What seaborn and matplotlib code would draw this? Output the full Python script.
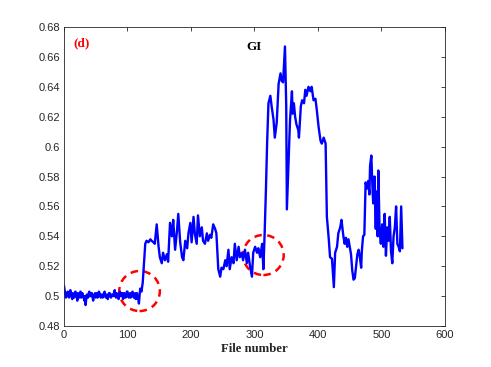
import matplotlib
matplotlib.use("Agg")
import matplotlib.pyplot as plt
import seaborn as sns
import pandas as pd
from matplotlib.patches import Ellipse
from matplotlib.ticker import FormatStrFormatter, MultipleLocator

# values (file number, GI)
file_number = [
    0, 1, 2, 3, 4, 5, 6, 7, 8, 9, 10, 11, 12, 13, 14, 15, 16, 17, 18, 19,
    20, 21, 22, 23, 24, 25, 26, 27, 28, 29, 30, 31, 32, 33, 34, 35, 36, 37, 38, 39,
    40, 41, 42, 43, 44, 45, 46, 47, 48, 49, 50, 51, 52, 53, 54, 55, 56, 57, 58, 59,
    60, 61, 62, 63, 64, 65, 66, 67, 68, 69, 70, 71, 72, 73, 74, 75, 76, 77, 78, 79,
    80, 81, 82, 83, 84, 85, 86, 87, 88, 89, 90, 91, 92, 93, 94, 95, 96, 97, 98, 99,
    100, 101, 102, 103, 104, 105, 106, 107, 108, 109, 110, 111, 112, 113, 114, 115, 116, 117, 118, 119,
    120, 122, 124, 126, 128, 130, 133, 136, 138, 141, 143, 146, 149, 151, 154, 156, 159, 162, 164, 167,
    170, 172, 175, 178, 180, 183, 186, 188, 191, 194, 196, 199, 201, 204, 206, 209, 211, 214, 217, 219,
    222, 225, 227, 230, 232, 235, 238, 240, 243, 246, 248, 251, 254, 256, 259, 261, 264, 267, 269, 272,
    275, 277, 280, 282, 285, 288, 290, 293, 296, 298, 301, 304, 306, 309, 312, 314, 316, 318, 320, 322,
    325, 327, 330, 332, 335, 338, 341, 343, 345, 348, 350, 351, 353, 356, 359, 360, 362, 364, 366, 369,
    370, 373, 375, 378, 380, 382, 385, 388, 390, 393, 396, 398, 401, 404, 406, 409, 412, 414, 417, 419,
    422, 425, 427, 430, 432, 435, 437, 440, 442, 444, 446, 448, 450, 452, 454, 456, 458, 460, 462, 464,
    466, 468, 469, 471, 473, 475, 477, 479, 481, 482, 484, 486, 487, 489, 491, 492, 494, 495, 497, 499,
    501, 503, 505, 507, 509, 511, 513, 515, 517, 519, 521, 523, 525, 527, 529, 531, 533,
]
gi = [
    0.507, 0.504, 0.502, 0.499, 0.500, 0.502, 0.503, 0.500, 0.499, 0.502, 0.504, 0.501, 0.500, 0.498, 0.502, 0.500, 0.499, 0.501, 0.503, 0.500,
    0.500, 0.497, 0.502, 0.500, 0.499, 0.501, 0.503, 0.499, 0.501, 0.502, 0.500, 0.499, 0.497, 0.500, 0.494, 0.498, 0.501, 0.500, 0.499, 0.502,
    0.503, 0.500, 0.500, 0.502, 0.502, 0.499, 0.497, 0.500, 0.501, 0.502, 0.499, 0.500, 0.502, 0.499, 0.500, 0.503, 0.502, 0.500, 0.499, 0.501,
    0.501, 0.499, 0.500, 0.502, 0.503, 0.500, 0.499, 0.501, 0.501, 0.498, 0.500, 0.502, 0.502, 0.500, 0.499, 0.501, 0.501, 0.500, 0.500, 0.503,
    0.504, 0.500, 0.499, 0.502, 0.501, 0.499, 0.498, 0.501, 0.503, 0.500, 0.500, 0.502, 0.502, 0.498, 0.499, 0.502, 0.501, 0.499, 0.500, 0.503,
    0.503, 0.500, 0.499, 0.501, 0.502, 0.499, 0.500, 0.502, 0.503, 0.500, 0.499, 0.501, 0.502, 0.498, 0.500, 0.502, 0.498, 0.500, 0.495, 0.500,
    0.505, 0.503, 0.509, 0.522, 0.535, 0.537, 0.536, 0.538, 0.537, 0.536, 0.535, 0.548, 0.533, 0.526, 0.522, 0.529, 0.524, 0.528, 0.523, 0.549,
    0.540, 0.551, 0.531, 0.544, 0.555, 0.536, 0.526, 0.524, 0.537, 0.532, 0.542, 0.549, 0.536, 0.553, 0.542, 0.535, 0.554, 0.540, 0.546, 0.537,
    0.535, 0.542, 0.537, 0.541, 0.539, 0.548, 0.545, 0.542, 0.518, 0.513, 0.519, 0.518, 0.524, 0.520, 0.531, 0.518, 0.526, 0.522, 0.535, 0.524,
    0.533, 0.526, 0.529, 0.524, 0.531, 0.522, 0.529, 0.520, 0.513, 0.529, 0.533, 0.529, 0.532, 0.526, 0.535, 0.518, 0.542, 0.571, 0.604, 0.629,
    0.634, 0.627, 0.618, 0.606, 0.616, 0.642, 0.649, 0.644, 0.643, 0.667, 0.627, 0.558, 0.582, 0.618, 0.637, 0.622, 0.629, 0.620, 0.615, 0.611,
    0.606, 0.627, 0.631, 0.629, 0.638, 0.634, 0.640, 0.637, 0.640, 0.631, 0.632, 0.625, 0.613, 0.604, 0.602, 0.606, 0.602, 0.553, 0.538, 0.526,
    0.525, 0.506, 0.529, 0.533, 0.542, 0.546, 0.551, 0.540, 0.535, 0.539, 0.533, 0.538, 0.533, 0.528, 0.517, 0.511, 0.512, 0.520, 0.528, 0.531,
    0.526, 0.519, 0.530, 0.540, 0.541, 0.576, 0.572, 0.577, 0.568, 0.587, 0.594, 0.570, 0.562, 0.580, 0.545, 0.570, 0.540, 0.584, 0.544, 0.535,
    0.548, 0.533, 0.555, 0.527, 0.546, 0.537, 0.553, 0.530, 0.522, 0.540, 0.546, 0.560, 0.535, 0.533, 0.530, 0.560, 0.532,
]

# dashed red marks: (centre file number, centre GI)
circle_x = [119, 314]
circle_y = [0.5034, 0.5275]

df = pd.DataFrame({"File number": file_number, "GI": gi})

sns.set_style("white")
fig = plt.figure(figsize=(4.91, 3.67), dpi=100)
ax = fig.add_axes([0.1303, 0.1117, 0.776, 0.8147])

sns.lineplot(data=df, x="File number", y="GI", ax=ax, color="#0000ff",
             linewidth=1.7, estimator=None, sort=False)

for cx, cy in zip(circle_x, circle_y):
    ax.add_patch(Ellipse((cx, cy), 64, 0.0268, fill=False, edgecolor="red",
                         linestyle=(0, (3, 2.2)), linewidth=1.8))

ax.set_xlim(0, 600)
ax.set_ylim(0.48, 0.68)
ax.xaxis.set_major_locator(MultipleLocator(100))
ax.yaxis.set_major_locator(MultipleLocator(0.02))
ax.yaxis.set_major_formatter(FormatStrFormatter("%g"))

ax.tick_params(direction="in", length=3, width=0.6, colors="#262626",
               top=True, right=True, labelsize=8, pad=3)
for lab in ax.get_xticklabels() + ax.get_yticklabels():
    lab.set_family("Liberation Sans")
for s in ax.spines.values():
    s.set_color("#262626")
    s.set_linewidth(0.6)
    s.set_visible(True)

ax.set_xlabel("File number", fontsize=9.2, fontweight="bold",
              family="Liberation Serif", color="#262626", labelpad=2)
ax.set_ylabel("")

ax.text(15.5, 0.669, "(d)", color="red", fontsize=9.5, fontweight="bold",
        family="Liberation Serif", va="center", ha="left")
ax.text(300, 0.6665, "GI", color="black", fontsize=9.5, fontweight="bold",
        family="Liberation Serif", va="center", ha="center")

fig.savefig("out.png", dpi=100)
